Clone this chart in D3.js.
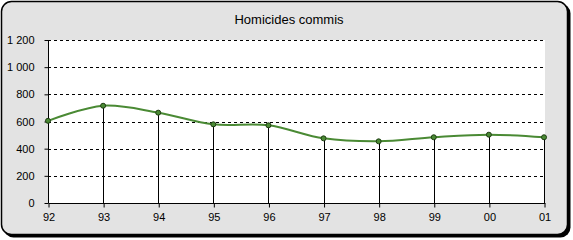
<!DOCTYPE html>
<html><head><meta charset="utf-8">
<script src="https://cdn.jsdelivr.net/npm/d3@7"></script>
<style>html,body{margin:0;padding:0;background:#fff;}svg{display:block;}</style>
</head><body>
<script>
const title = "Homicides commis";
const years = ["92","93","94","95","96","97","98","99","00","01"];
const values = [605, 716, 665, 579, 572, 476, 454, 484, 503, 484];
const yTicks = [0, 200, 400, 600, 800, 1000, 1200];

const W = 573, H = 240;
const svg = d3.select("body").append("svg").attr("width", W).attr("height", H);

// frame shadow + frame
svg.append("rect").attr("x", 3.5).attr("y", 3.5).attr("width", 567).attr("height", 234)
  .attr("rx", 10).attr("fill", "#000");
svg.append("rect").attr("x", 1.5).attr("y", 1.5).attr("width", 566).attr("height", 233)
  .attr("rx", 10).attr("fill", "#e3e3e3").attr("stroke", "#000").attr("stroke-width", 1.5);

const pL = 48, pR = 545, pT = 40, pB = 203;
const x = d3.scalePoint().domain(years).range([pL, 544]);
const y = d3.scaleLinear().domain([0, 1200]).range([pB, pT]);

svg.append("rect").attr("x", pL).attr("y", pT).attr("width", pR - pL).attr("height", pB - pT).attr("fill", "#fff");

// grid
svg.append("g").selectAll("line").data(yTicks.filter(d => d > 0)).join("line")
  .attr("x1", pL).attr("x2", pR)
  .attr("y1", d => Math.round(y(d)) + 0.5).attr("y2", d => Math.round(y(d)) + 0.5)
  .attr("stroke", "#000").attr("stroke-dasharray", "3,3").attr("shape-rendering", "crispEdges");

const fmt = d => d3.format(",")(d).replace(",", " ");
const font = "'Liberation Sans', Arial, sans-serif";

// y axis
const ya = svg.append("g").attr("transform", `translate(${pL + 0.5},0)`)
  .call(d3.axisLeft(y).tickValues(yTicks).tickFormat(fmt).tickSize(4).tickPadding(10));
ya.select(".domain").attr("d", `M0,${pT}V${pB}`).attr("stroke", "#000");
ya.selectAll("text").attr("font-family", font).attr("font-size", 11).attr("fill", "#000");
ya.selectAll("line").attr("stroke", "#000");

// drop lines
svg.append("g").selectAll("line").data(years).join("line")
  .attr("x1", d => Math.round(x(d)) + 0.5).attr("x2", d => Math.round(x(d)) + 0.5)
  .attr("y1", (d, i) => y(values[i])).attr("y2", pB)
  .attr("stroke", "#000").attr("shape-rendering", "crispEdges");

// x axis
const xa = svg.append("g").attr("transform", `translate(0.5,${pB + 0.5})`)
  .call(d3.axisBottom(x).tickSize(4).tickPadding(6).tickSizeOuter(0));
xa.select(".domain").attr("d", `M${pL},0H${pR}`).attr("stroke", "#000");
xa.selectAll("text").attr("font-family", font).attr("font-size", 11).attr("fill", "#000");
xa.selectAll("line").attr("stroke", "#000");

// line
const line = d3.line().x((d, i) => x(years[i])).y(d => y(d)).curve(d3.curveCatmullRom.alpha(0.5));
svg.append("path").datum(values).attr("d", line).attr("fill", "none")
  .attr("stroke", "#4a8a34").attr("stroke-width", 2);

svg.append("g").selectAll("circle").data(values).join("circle")
  .attr("cx", (d, i) => x(years[i])).attr("cy", d => y(d)).attr("r", 2.5)
  .attr("fill", "#4a8a34").attr("stroke", "#1e3d12").attr("stroke-width", 1);

svg.append("text").attr("x", 289).attr("y", 24).attr("text-anchor", "middle")
  .attr("font-family", font).attr("font-size", 13).attr("fill", "#000").text(title);
</script>
</body></html>
